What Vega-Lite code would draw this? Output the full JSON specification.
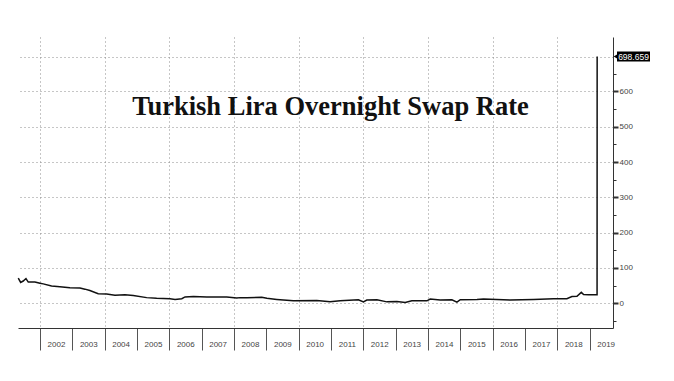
{
  "$schema": "https://vega.github.io/schema/vega-lite/v6.json",
  "width": 595,
  "height": 291,
  "autosize": {"type": "none"},
  "padding": {"left": 18, "top": 37, "right": 61, "bottom": 53},
  "background": "white",
  "title": {
    "text": "Turkish Lira Overnight Swap Rate",
    "font": "Liberation Serif",
    "fontSize": 26.5,
    "fontWeight": "bold",
    "color": "#111111",
    "anchor": "middle",
    "frame": "group",
    "baseline": "alphabetic",
    "offset": -104,
    "dx": 15
  },
  "config": {"view": {"stroke": null}},
  "data": {
    "values": [
      {"date": "2001-05-01", "value": 71},
      {"date": "2001-05-28", "value": 59},
      {"date": "2001-06-26", "value": 63},
      {"date": "2001-07-27", "value": 70},
      {"date": "2001-08-22", "value": 60},
      {"date": "2001-11-05", "value": 60},
      {"date": "2002-01-01", "value": 57},
      {"date": "2002-02-07", "value": 55},
      {"date": "2002-05-12", "value": 49},
      {"date": "2002-08-14", "value": 47},
      {"date": "2002-12-05", "value": 44},
      {"date": "2003-03-29", "value": 43},
      {"date": "2003-05-24", "value": 40},
      {"date": "2003-07-19", "value": 36},
      {"date": "2003-10-21", "value": 27},
      {"date": "2004-01-24", "value": 26},
      {"date": "2004-04-27", "value": 23},
      {"date": "2004-08-18", "value": 24},
      {"date": "2004-11-20", "value": 22},
      {"date": "2005-04-20", "value": 16},
      {"date": "2005-08-11", "value": 14},
      {"date": "2006-01-09", "value": 13},
      {"date": "2006-03-07", "value": 11},
      {"date": "2006-05-22", "value": 13},
      {"date": "2006-06-28", "value": 18},
      {"date": "2006-09-30", "value": 19},
      {"date": "2007-02-28", "value": 18},
      {"date": "2007-10-12", "value": 18},
      {"date": "2008-02-02", "value": 15},
      {"date": "2008-03-11", "value": 16},
      {"date": "2008-05-26", "value": 16},
      {"date": "2008-11-10", "value": 17},
      {"date": "2009-01-07", "value": 14},
      {"date": "2009-04-29", "value": 11},
      {"date": "2009-11-03", "value": 7},
      {"date": "2010-07-25", "value": 8},
      {"date": "2010-12-22", "value": 4},
      {"date": "2011-04-14", "value": 7},
      {"date": "2011-11-07", "value": 10},
      {"date": "2012-01-03", "value": 4},
      {"date": "2012-02-10", "value": 9},
      {"date": "2012-06-03", "value": 10},
      {"date": "2012-09-24", "value": 4},
      {"date": "2013-01-15", "value": 5},
      {"date": "2013-04-19", "value": 2},
      {"date": "2013-07-03", "value": 7},
      {"date": "2013-12-20", "value": 7},
      {"date": "2014-01-26", "value": 12},
      {"date": "2014-05-19", "value": 9},
      {"date": "2014-09-28", "value": 10},
      {"date": "2014-11-24", "value": 3},
      {"date": "2015-01-01", "value": 10},
      {"date": "2015-07-08", "value": 11},
      {"date": "2015-09-20", "value": 12},
      {"date": "2016-07-18", "value": 9},
      {"date": "2017-04-08", "value": 11},
      {"date": "2017-11-20", "value": 13},
      {"date": "2018-04-19", "value": 13},
      {"date": "2018-06-15", "value": 19},
      {"date": "2018-08-11", "value": 20},
      {"date": "2018-09-29", "value": 31},
      {"date": "2018-10-25", "value": 25},
      {"date": "2018-12-20", "value": 24},
      {"date": "2019-02-27", "value": 24},
      {"date": "2019-03-26", "value": 24},
      {"date": "2019-03-27", "value": 698.659}
    ]
  },
  "encoding": {
    "y": {
      "field": "value",
      "type": "quantitative",
      "scale": {"domain": [-70, 754], "nice": false, "zero": false},
      "axis": {
        "title": null,
        "orient": "right",
        "values": [-50, 0, 50, 100, 150, 200, 250, 300, 350, 400, 450, 500, 550, 600, 650, 698.659],
        "format": "d",
        "labelExpr": "datum.value % 100 === 0 ? datum.label : ''",
        "labelBaseline": "middle",
        "labelPadding": 1,
        "labelOverlap": false,
        "labelFont": "Liberation Sans",
        "labelFontSize": 8,
        "labelColor": "#444444",
        "domainColor": "#333333",
        "tickColor": "#333333",
        "tickSize": {"condition": {"test": "datum.value % 100 === 0", "value": 5}, "value": 3},
        "tickWidth": {"condition": {"test": "datum.value % 100 === 0", "value": 2}, "value": 1},
        "tickOpacity": {"condition": {"test": "datum.value > 690", "value": 0}, "value": 1},
        "grid": true,
        "gridColor": "#8c8c8c",
        "gridDash": [1, 3],
        "gridOpacity": {"condition": {"test": "datum.value % 100 === 0 || datum.value > 690", "value": 1}, "value": 0}
      }
    }
  },
  "layer": [
    {
      "mark": {"type": "line", "color": "#111111", "strokeWidth": 1.5},
      "encoding": {
        "x": {
          "field": "date",
          "type": "temporal",
          "scale": {"domain": [{"year": 2001, "month": 4, "date": 28}, {"year": 2019, "month": 9, "date": 22}]},
          "axis": {
            "title": null,
            "orient": "bottom",
            "format": "%Y",
            "tickCount": {"interval": "year", "step": 1},
            "labelOffset": 16,
            "labelAlign": "center",
            "labelBaseline": "middle",
            "labelPadding": -6,
            "labelFlush": false,
            "labelOverlap": false,
            "labelBound": false,
            "tickSize": 22,
            "tickColor": "#555555",
            "domainColor": "#333333",
            "labelColor": "#444444",
            "labelFont": "Liberation Sans",
            "labelFontSize": 8,
            "grid": true,
            "gridColor": "#8c8c8c",
            "gridDash": [1, 3],
            "gridOpacity": {"condition": {"test": "year(datum.value) % 2 === 0", "value": 1}, "value": 0}
          }
        }
      }
    },
    {
      "transform": [{"filter": "datum.value > 600"}],
      "mark": {"type": "rect", "color": "#000000", "xOffset": 4, "x2Offset": 37, "yOffset": -5, "y2Offset": 5},
      "encoding": {
        "x": {
          "datum": {"year": 2019, "month": 9, "date": 22},
          "type": "temporal",
          "axis": {
            "title": null,
            "orient": "bottom",
            "format": "%Y",
            "tickCount": {"interval": "year", "step": 1},
            "labelOffset": 16,
            "labelAlign": "center",
            "labelBaseline": "middle",
            "labelPadding": -6,
            "labelFlush": false,
            "labelOverlap": false,
            "labelBound": false,
            "tickSize": 22,
            "tickColor": "#555555",
            "domainColor": "#333333",
            "labelColor": "#444444",
            "labelFont": "Liberation Sans",
            "labelFontSize": 8,
            "grid": true,
            "gridColor": "#8c8c8c",
            "gridDash": [1, 3],
            "gridOpacity": {"condition": {"test": "year(datum.value) % 2 === 0", "value": 1}, "value": 0}
          }
        },
        "x2": {"datum": {"year": 2019, "month": 9, "date": 22}},
        "y2": {"field": "value"}
      }
    },
    {
      "transform": [{"filter": "datum.value > 600"}],
      "mark": {"type": "point", "shape": "triangle-left", "filled": true, "color": "#000000", "opacity": 1, "size": 30, "xOffset": 3},
      "encoding": {
        "x": {
          "datum": {"year": 2019, "month": 9, "date": 22},
          "type": "temporal",
          "axis": {
            "title": null,
            "orient": "bottom",
            "format": "%Y",
            "tickCount": {"interval": "year", "step": 1},
            "labelOffset": 16,
            "labelAlign": "center",
            "labelBaseline": "middle",
            "labelPadding": -6,
            "labelFlush": false,
            "labelOverlap": false,
            "labelBound": false,
            "tickSize": 22,
            "tickColor": "#555555",
            "domainColor": "#333333",
            "labelColor": "#444444",
            "labelFont": "Liberation Sans",
            "labelFontSize": 8,
            "grid": true,
            "gridColor": "#8c8c8c",
            "gridDash": [1, 3],
            "gridOpacity": {"condition": {"test": "year(datum.value) % 2 === 0", "value": 1}, "value": 0}
          }
        }
      }
    },
    {
      "transform": [{"filter": "datum.value > 600"}],
      "mark": {"type": "text", "color": "white", "align": "center", "baseline": "middle", "dx": 20.5, "font": "Liberation Sans", "fontSize": 8.5},
      "encoding": {
        "x": {
          "datum": {"year": 2019, "month": 9, "date": 22},
          "type": "temporal",
          "axis": {
            "title": null,
            "orient": "bottom",
            "format": "%Y",
            "tickCount": {"interval": "year", "step": 1},
            "labelOffset": 16,
            "labelAlign": "center",
            "labelBaseline": "middle",
            "labelPadding": -6,
            "labelFlush": false,
            "labelOverlap": false,
            "labelBound": false,
            "tickSize": 22,
            "tickColor": "#555555",
            "domainColor": "#333333",
            "labelColor": "#444444",
            "labelFont": "Liberation Sans",
            "labelFontSize": 8,
            "grid": true,
            "gridColor": "#8c8c8c",
            "gridDash": [1, 3],
            "gridOpacity": {"condition": {"test": "year(datum.value) % 2 === 0", "value": 1}, "value": 0}
          }
        },
        "text": {"field": "value", "format": ".3f"}
      }
    }
  ]
}
